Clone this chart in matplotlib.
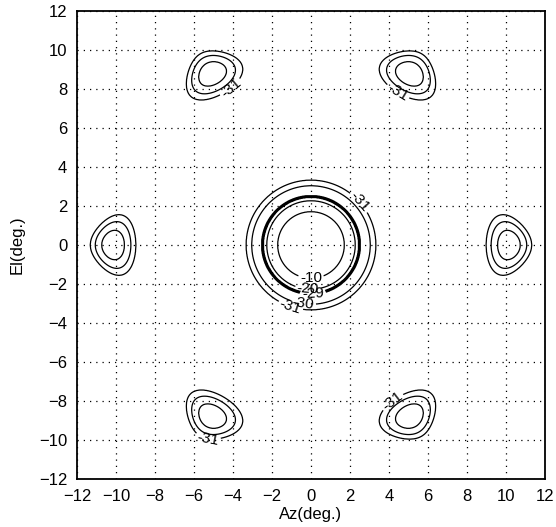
import numpy as np
import matplotlib
matplotlib.use("Agg")
import matplotlib.pyplot as plt

plt.rcParams["font.family"] = ["Liberation Sans", "DejaVu Sans"]

# lobe centres (deg), main beam first
lobe_az = [0.0, 5.08, -5.08, 10.15, -10.15, 5.08, -5.08]
lobe_el = [0.0, 8.8, 8.8, 0.0, 0.0, -8.8, -8.8]

# main beam: ring radius (deg) -> level (dB)
main_r = [0.0, 1.71, 2.27, 2.48, 3.04, 3.33, 4.5]
main_db = [0.0, -10.0, -20.0, -29.0, -30.0, -31.0, -45.0]

# grating lobes: normalised ring size -> level (dB)
side_d = [0.0, 0.5, 0.78, 1.0, 2.0]
side_db = [-28.5, -29.0, -30.0, -31.0, -45.0]
side_a = 1.17    # radial half size of outer ring (deg)
side_b = 1.5     # tangential half size (deg)
side_taper = 0.25

main_levels = [-31, -30, -29, -20, -10]
main_widths = [0.9, 0.9, 2.2, 0.9, 0.9]
side_levels = [-31, -30, -29]

ticks = np.arange(-12, 13, 2)

az = np.linspace(-12, 12, 1201)
el = np.linspace(-12, 12, 1201)
X, Y = np.meshgrid(az, el)

main_field = np.interp(np.hypot(X - lobe_az[0], Y - lobe_el[0]), main_r, main_db)

side_field = np.full(X.shape, -50.0)
for cx, cy in zip(lobe_az[1:], lobe_el[1:]):
    dx, dy = X - cx, Y - cy
    n = np.hypot(cx, cy)
    ux, uy = cx / n, cy / n
    p = dx * ux + dy * uy
    t = -dx * uy + dy * ux
    bt = side_b * np.clip(1 - side_taper * p, 0.2, None)
    d = np.sqrt((p / side_a) ** 2 + (t / bt) ** 2)
    side_field = np.maximum(side_field, np.interp(d, side_d, side_db))

fig = plt.figure(figsize=(5.56, 5.27), dpi=100)
ax = fig.add_axes([77 / 556, 48 / 527, 468 / 556, 468 / 527])

cs_main = ax.contour(X, Y, main_field, levels=main_levels, colors="black",
                     linewidths=main_widths, linestyles="solid")
cs_side = ax.contour(X, Y, side_field, levels=side_levels, colors="black",
                     linewidths=0.9, linestyles="solid")

main_label_pos = [(0.0, -1.7), (-0.15, -2.2), (0.1, -2.46), (2.6, 2.3),
                  (-1.1, -3.25), (-0.4, -2.95)]
side_label_pos = [(-4.15, 8.1), (4.3, 7.6), (-5.3, -10.1), (4.2, -8.05)]
ax.clabel(cs_main, fmt="%d", fontsize=11, inline=True, inline_spacing=2,
          manual=main_label_pos)
ax.clabel(cs_side, fmt="%d", fontsize=11, inline=True, inline_spacing=2,
          manual=side_label_pos)

ax.set_xlim(-12, 12)
ax.set_ylim(-12, 12)
ax.set_xticks(ticks)
ax.set_yticks(ticks)
ax.grid(True, color="black", linestyle=(0, (1, 4)), linewidth=0.9)
ax.tick_params(length=0, pad=7, labelsize=12)
for s in ax.spines.values():
    s.set_linewidth(1.3)

ax.set_xlabel("Az(deg.)", fontsize=12, labelpad=2)
ax.set_ylabel("El(deg.)", fontsize=12, labelpad=10)

fig.savefig("out.png", dpi=100)
